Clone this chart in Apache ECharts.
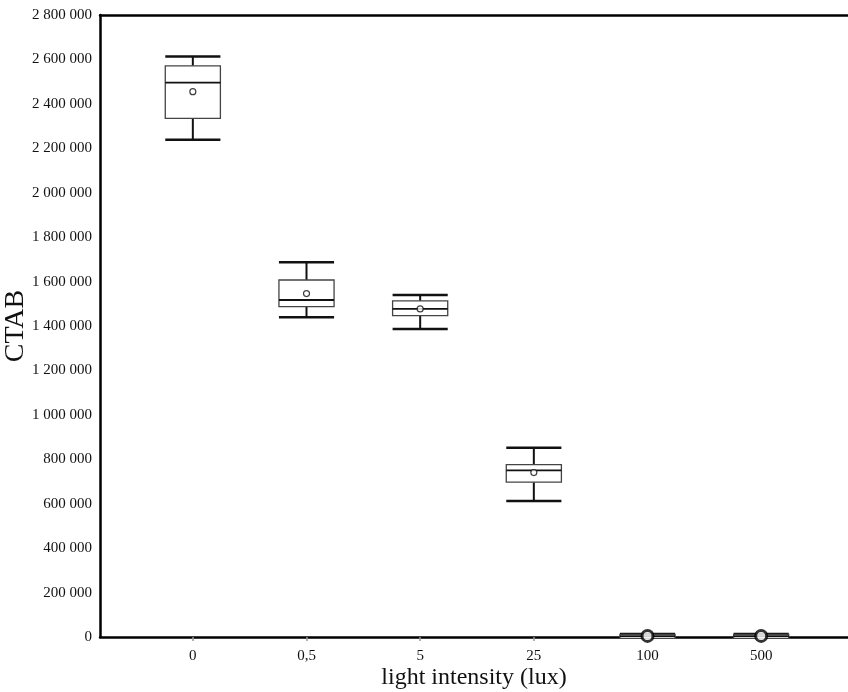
<!DOCTYPE html>
<html>
<head>
<meta charset="utf-8">
<style>
  html, body { margin: 0; padding: 0; background: #ffffff; }
  #chart { width: 848px; height: 692px; }
</style>
<script src="https://cdn.jsdelivr.net/npm/echarts@6/dist/echarts.min.js"></script>
</head>
<body>
<div id="chart"></div>
<script>
const categories = ['0', '0,5', '5', '25', '100', '500'];
const whiskerLow = [2238000, 1439000, 1387000, 612000, 0, 0];
const q1 = [2335000, 1487000, 1447000, 697000, 0, 0];
const median = [2496000, 1517000, 1477000, 750000, 4000, 4000];
const q3 = [2571000, 1607000, 1513000, 776000, 12000, 12000];
const whiskerHigh = [2613000, 1687000, 1540000, 852000, 14000, 14000];
const means = [2455000, 1546000, 1477000, 740000, 5000, 5000];
const yMin = 0, yMax = 2800000, yInterval = 200000;

const FONT = '"Liberation Serif", "DejaVu Serif", serif';

function fmt(v) {
  return String(v).replace(/\B(?=(\d{3})+(?!\d))/g, ' ');
}

const boxData = categories.map((c, i) => [i, whiskerLow[i], q1[i], median[i], q3[i], whiskerHigh[i]]);
const meanData = categories.map((c, i) => {
  const small = whiskerHigh[i] < 100000;
  return {
    value: [i, means[i]],
    symbolSize: small ? 11 : 6,
    itemStyle: small
      ? { color: '#ffffff', borderColor: '#000000', borderWidth: 3 }
      : { color: '#ffffff', borderColor: '#111111', borderWidth: 1.2 }
  };
});

function renderBox(params, api) {
  const x = api.value(0);
  const band = api.size([1, 0])[0];
  const bw = band * 0.485;
  const pMin = api.coord([x, api.value(1)]);
  const pQ1 = api.coord([x, api.value(2)]);
  const pMed = api.coord([x, api.value(3)]);
  const pQ3 = api.coord([x, api.value(4)]);
  const pMax = api.coord([x, api.value(5)]);
  const cx = pMed[0];
  const l = cx - bw / 2, r = cx + bw / 2;
  const blk = '#111111';
  return {
    type: 'group',
    children: [
      { type: 'line', shape: { x1: cx, y1: pMax[1], x2: cx, y2: pQ3[1] }, style: { stroke: blk, lineWidth: 2 } },
      { type: 'line', shape: { x1: cx, y1: pQ1[1], x2: cx, y2: pMin[1] }, style: { stroke: blk, lineWidth: 2 } },
      { type: 'line', shape: { x1: l, y1: pMax[1], x2: r, y2: pMax[1] }, style: { stroke: blk, lineWidth: 2.5 } },
      { type: 'line', shape: { x1: l, y1: pMin[1], x2: r, y2: pMin[1] }, style: { stroke: blk, lineWidth: 2.5 } },
      { type: 'rect', shape: { x: l, y: pQ3[1], width: bw, height: Math.max(pQ1[1] - pQ3[1], 4) }, style: { fill: '#ffffff', stroke: '#444444', lineWidth: 1.3 } },
      { type: 'line', shape: { x1: l, y1: pMed[1], x2: r, y2: pMed[1] }, style: { stroke: blk, lineWidth: 1.8 } }
    ]
  };
}

const chart = echarts.init(document.getElementById('chart'), null, { renderer: 'canvas' });
chart.setOption({
  animation: false,
  backgroundColor: '#ffffff',
  grid: [
    { left: 100, right: 0, top: 15, bottom: 55, containLabel: false, outerBoundsMode: 'none' },
    { left: 136, right: 30, top: 15, bottom: 55, containLabel: false, outerBoundsMode: 'none' }
  ],
  xAxis: [
    {
      gridIndex: 0, type: 'value', min: 0, max: 1, position: 'bottom',
      axisLine: { show: true, lineStyle: { color: '#000000', width: 2.5 } },
      axisTick: { show: false }, axisLabel: { show: false }, splitLine: { show: false },
      name: 'light intensity (lux)', nameLocation: 'middle', nameGap: 29, nameMoveOverlap: false,
      nameTextStyle: { fontFamily: FONT, fontSize: 24, color: '#111111' }
    },
    {
      gridIndex: 0, type: 'value', min: 0, max: 1, position: 'top',
      axisLine: { show: true, lineStyle: { color: '#000000', width: 2.5 } },
      axisTick: { show: false }, axisLabel: { show: false }, splitLine: { show: false }
    },
    {
      gridIndex: 1, type: 'category', data: categories, position: 'bottom',
      boundaryGap: true,
      axisLine: { show: false },
      axisTick: { show: true, alignWithLabel: true, length: 4, lineStyle: { color: '#999999', width: 1.5 } },
      axisLabel: { fontFamily: FONT, fontSize: 15, color: '#111111', margin: 12 },
      splitLine: { show: false }
    }
  ],
  yAxis: [
    {
      gridIndex: 0, type: 'value', min: yMin, max: yMax, interval: yInterval,
      axisLine: { show: true, lineStyle: { color: '#000000', width: 2.5 } },
      axisTick: { show: false }, splitLine: { show: false },
      axisLabel: { fontFamily: FONT, fontSize: 15, color: '#111111', margin: 8, formatter: fmt },
      name: 'CTAB', nameLocation: 'middle', nameGap: 70, nameRotate: 90, nameMoveOverlap: false,
      nameTextStyle: { fontFamily: FONT, fontSize: 28, color: '#111111' }
    },
    {
      gridIndex: 1, type: 'value', min: yMin, max: yMax, interval: yInterval, show: false
    }
  ],
  series: [
    {
      type: 'custom', xAxisIndex: 2, yAxisIndex: 1, clip: false,
      renderItem: renderBox, data: boxData, z: 3
    },
    {
      type: 'scatter', xAxisIndex: 2, yAxisIndex: 1, symbol: 'circle',
      data: meanData, z: 5
    }
  ]
});
</script>
</body>
</html>
